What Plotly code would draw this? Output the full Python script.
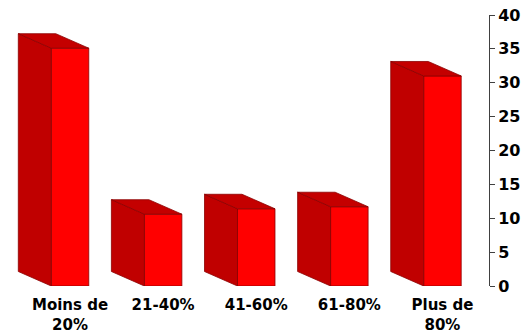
import plotly.graph_objects as go

categories = ["Moins de<br>20%", "21-40%", "41-60%", "61-80%", "Plus de<br>80%"]
values = [35.1, 10.6, 11.4, 11.7, 31.0]
y_ticks = [0, 5, 10, 15, 20, 25, 30, 35, 40]

FRONT = "#FF0000"
SIDE = "#C00000"
TOP = "#C40000"
EDGE = "#8B0000"

W = 0.403      # front width (category units)
DX = 0.354     # depth offset x (category units)
DY = 2.14      # depth offset y (value units)

xs = list(range(len(categories)))

side_x, side_y, top_x, top_y = [], [], [], []
for x, v in zip(xs, values):
    xl, xr = x - W / 2, x + W / 2
    side_x += [xl, xl, xl - DX, xl - DX, xl, None]
    side_y += [0, v, v + DY, DY, 0, None]
    top_x += [xl, xr, xr - DX, xl - DX, xl, None]
    top_y += [v, v, v + DY, v + DY, v, None]

fig = go.Figure()
fig.add_trace(go.Scatter(x=side_x, y=side_y, mode="lines", fill="toself",
                         fillcolor=SIDE, line=dict(color=EDGE, width=0.8),
                         hoverinfo="skip", showlegend=False))
fig.add_trace(go.Scatter(x=top_x, y=top_y, mode="lines", fill="toself",
                         fillcolor=TOP, line=dict(color=EDGE, width=0.8),
                         hoverinfo="skip", showlegend=False))
fig.add_trace(go.Bar(x=xs, y=values, width=W, marker=dict(color=FRONT, line=dict(color=EDGE, width=0.8)),
                     showlegend=False))

fig.update_layout(
    width=523, height=335,
    margin=dict(l=0, r=34, t=15, b=49),
    plot_bgcolor="white", paper_bgcolor="white",
    xaxis=dict(range=[-0.752, 4.5], tickvals=xs, ticktext=categories,
               showgrid=False, zeroline=False, showline=False, ticks="",
               ticklabelstandoff=8,
               tickfont=dict(family="DejaVu Sans", size=15, color="black", weight="bold")),
    yaxis=dict(range=[0, 40], side="right", tickvals=y_ticks, ticktext=[str(t) for t in y_ticks],
               showgrid=False, zeroline=False, showline=True, linecolor="#404040", linewidth=1,
               ticks="outside", ticklen=5, tickcolor="#404040", tickwidth=1,
               tickfont=dict(family="DejaVu Sans", size=16, color="black", weight="bold")),
)

fig.write_html("out.html")
